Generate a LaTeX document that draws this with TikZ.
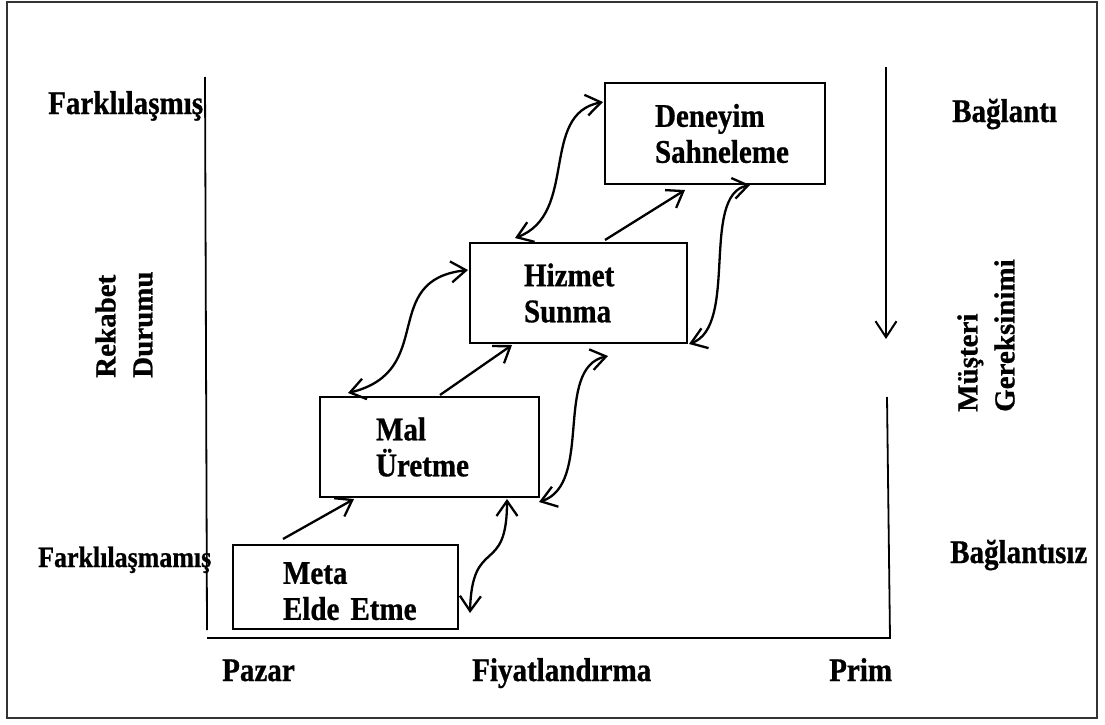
\documentclass[tikz,border=0pt]{standalone}
\usepackage{fontspec}
\setmainfont{Liberation Serif}
\newfontfamily\lblfont{Liberation Serif}[FakeStretch=0.88,FakeBold=0.8]
\newfontfamily\rotfont{Liberation Serif}[FakeBold=0.8]
\usetikzlibrary{arrows.meta,calc}
\begin{document}
\begin{tikzpicture}[x=1pt,y=-1pt,
  lbl/.style={font=\lblfont\fontsize{33}{36}\selectfont\bfseries, inner sep=0pt},
  rlbl/.style={font=\rotfont\fontsize{29}{37}\selectfont\bfseries, inner sep=0pt, rotate=90, align=left, anchor=west},
  box/.style={draw, line width=2pt, anchor=north west, align=left, inner ysep=0pt,
    font=\lblfont\fontsize{33}{36}\selectfont\bfseries},
  conn/.style={line width=2.3pt, -{Straight Barb[length=15pt,width=21pt]}},
  dconn/.style={line width=2.3pt, {Straight Barb[length=15pt,width=21pt]}-{Straight Barb[length=15pt,width=21pt]}},
  axisline/.style={line width=1.8pt}]
\useasboundingbox (0,0) rectangle (1105,725);
\draw[line width=2.2pt, black!80] (7,2) rectangle (1097,718);

% axes
\coordinate (ltop) at (205,77);
\coordinate (lbot) at (207,630);
\coordinate (bl) at (207,638);
\coordinate (br) at (890,638);
\coordinate (rtop) at (886,67);
\coordinate (rtip) at (886,339);
\coordinate (rlow) at (887,397);
\draw[axisline] (ltop) -- (lbot);
\draw[axisline] (bl) -- (br) -- (rlow);
\draw[line width=2pt, -{Straight Barb[length=16pt,width=21pt]}] (rtop) -- (rtip);

% boxes
\node[box, text width=125pt, inner xsep=50pt, minimum height=84pt] (meta) at (232,544) {\rule{0pt}{30pt}Meta\\Elde~Etme};
\node[box, text width=107pt, inner xsep=56pt, minimum height=100pt] (mal) at (319,396) {Mal\\Üretme};
\node[box, text width=109pt, inner xsep=54pt, minimum height=100pt] (hiz) at (469,242) {Hizmet\\Sunma};
\node[box, text width=120pt, inner xsep=50pt, minimum height=101pt] (den) at (604,82) {Deneyim\\Sahneleme};

% straight arrows
\draw[conn] ($(meta.north west)+(51,-5)$) -- ($(mal.south west)+(35,1)$);
\draw[conn] ($(mal.north west)+(121,-1)$) -- ($(hiz.south west)+(43,1)$);
\draw[conn] ($(hiz.north west)+(136,-2)$) -- ($(den.south west)+(81,5)$);

% curved double arrows
\draw[dconn] ($(mal.north west)+(29,-3)$) .. controls +(90,-22) and +(-90,10) .. ($(hiz.north west)+(-1,28)$);
\draw[dconn] ($(hiz.north west)+(46,-4)$) .. controls +(64,-24) and +(-64,12) .. ($(den.north west)+(-1,20)$);
\draw[dconn] ($(hiz.south east)+(1,0)$) .. controls +(50,-18) and +(-50,10) .. ($(den.south west)+(146,0)$);
\draw[dconn] ($(mal.south east)+(-1,4)$) .. controls +(55,-18) and +(-55,12) .. ($(hiz.south west)+(139,12)$);
\draw[dconn] ($(meta.north east)+(11,69)$) .. controls +(2,-78) and +(0,78) .. ($(mal.south west)+(188,1)$);

% labels
\node[lbl, anchor=base west] (fark) at (48,114) {Farklılaşmış};
\node[lbl, anchor=base west, font=\lblfont\fontsize{29.5}{32}\selectfont\bfseries] (farkm) at (38,567) {Farklılaşmamış};
\node[lbl, anchor=base west] (bag) at (952,122) {Bağlantı};
\node[lbl, anchor=base west] (bagsiz) at (950,563) {Bağlantısız};
\node[lbl, anchor=base west] (pazar) at (222,681) {Pazar};
\node[lbl, anchor=base west] (fiyat) at (472,681) {Fiyatlandırma};
\node[lbl, anchor=base west] (prim) at (829,681) {Prim};
\node[rlbl] (rek) at (124,378) {Rekabet\\Durumu};
\node[rlbl] (mus) at (986,412) {Müşteri\\Gereksinimi};
\end{tikzpicture}
\end{document}
